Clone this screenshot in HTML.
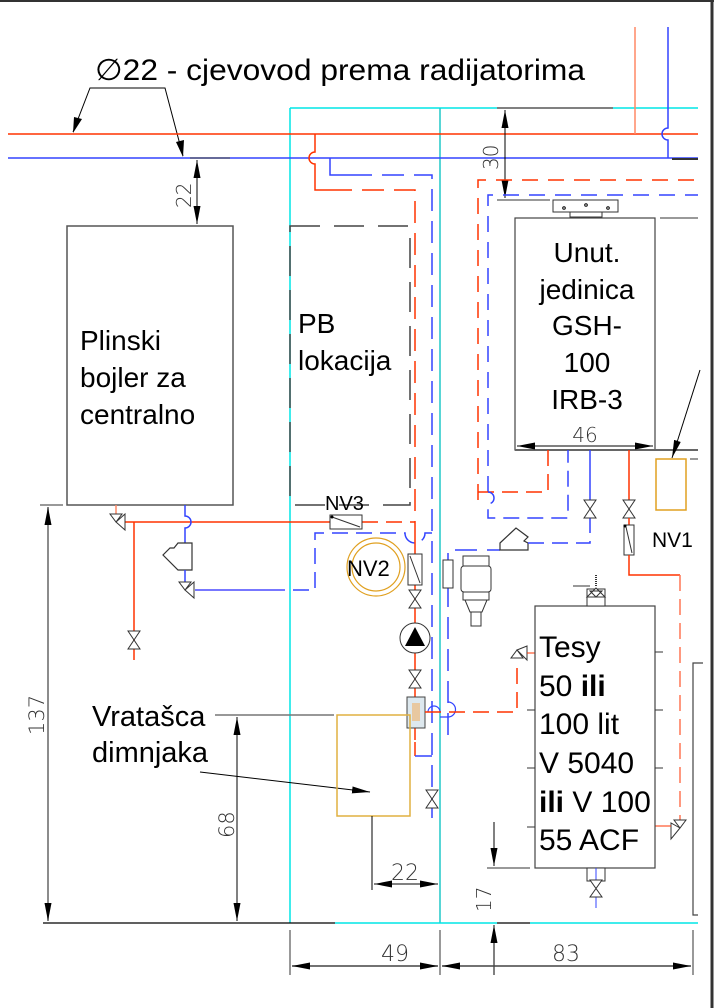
<!DOCTYPE html>
<html><head><meta charset="utf-8"><style>
html,body{margin:0;padding:0;background:#fff;}
svg{display:block;}
text{font-family:"Liberation Sans",sans-serif;}
.d{font-family:"DejaVu Sans","Liberation Sans",sans-serif;font-weight:200;fill:#333;}
</style></head><body>
<svg width="714" height="1008" viewBox="0 0 714 1008" xmlns="http://www.w3.org/2000/svg">
<defs>
<marker id="ahL" markerWidth="18" markerHeight="7" refX="18" refY="3.5" orient="auto" markerUnits="userSpaceOnUse"><path d="M0,0 L18,3.5 L0,7z" fill="#000"/></marker>
<marker id="ahS" markerWidth="18" markerHeight="7" refX="0" refY="3.5" orient="auto" markerUnits="userSpaceOnUse"><path d="M18,0 L0,3.5 L18,7z" fill="#000"/></marker>
</defs>
<line x1="0" y1="1" x2="714" y2="1" stroke="#333" stroke-width="2"/>
<line x1="712" y1="0" x2="712" y2="1008" stroke="#333" stroke-width="3"/>

<text x="95" y="80" font-size="30" fill="#000" textLength="490" lengthAdjust="spacingAndGlyphs">∅22 - cjevovod prema radijatorima</text>
<polyline points="73,132 90,88 165,88 183,156" fill="none" stroke="#000" stroke-width="1"/>
<path d="M73,133 L74,117 L82,119z" fill="#000"/>
<path d="M183,157 L176,142 L184,140z" fill="#000"/>

<line x1="290" y1="108" x2="497" y2="108" stroke="#00e5e5" stroke-width="1.5"/>
<line x1="497" y1="108" x2="613" y2="108" stroke="#000" stroke-width="1"/>
<line x1="613" y1="108" x2="698" y2="108" stroke="#00e5e5" stroke-width="1.5"/>
<line x1="290" y1="108" x2="290" y2="923" stroke="#00e5e5" stroke-width="1.5"/>
<line x1="440" y1="108" x2="440" y2="923" stroke="#20c8c8" stroke-width="1.5"/>
<line x1="43" y1="923" x2="335" y2="923" stroke="#000" stroke-width="1.2"/>
<line x1="335" y1="923" x2="497" y2="923" stroke="#00e5e5" stroke-width="1.5"/>
<line x1="497" y1="923" x2="530" y2="923" stroke="#000" stroke-width="1.2"/>
<line x1="530" y1="923" x2="698" y2="923" stroke="#00e5e5" stroke-width="1.5"/>

<line x1="8" y1="134" x2="698" y2="134" stroke="#ff3300" stroke-width="1.5"/>
<line x1="8" y1="158" x2="698" y2="158" stroke="#3344ff" stroke-width="1.5"/>
<line x1="635" y1="27" x2="635" y2="134" stroke="#ff8866" stroke-width="1.5"/>
<path d="M668,27 V128 A6,6 0 0 0 668,140 V158" fill="none" stroke="#3344ff" stroke-width="1.5"/>
<line x1="672" y1="159" x2="698" y2="159" stroke="#333" stroke-width="2"/>

<line x1="190" y1="158" x2="230" y2="158" stroke="#333"/>
<line x1="197" y1="160" x2="197" y2="224" stroke="#000" marker-start="url(#ahS)" marker-end="url(#ahL)"/>
<text class="d" x="0" y="0" font-size="20" transform="translate(191,208) rotate(-90)">22</text>

<rect x="67" y="226" width="166" height="279" fill="none" stroke="#555" stroke-width="1.5"/>
<text font-size="28" fill="#000"><tspan x="80" y="350">Plinski</tspan><tspan x="80" y="387">bojler za</tspan><tspan x="80" y="424">centralno</tspan></text>

<rect x="290" y="226" width="120" height="279" fill="none" stroke="#444" stroke-width="1.5" stroke-dasharray="30,14"/>
<text font-size="28" fill="#000"><tspan x="298" y="333">PB</tspan><tspan x="298" y="370">lokacija</tspan></text>

<path d="M315,134 V152 A6,6 0 0 0 315,164 V190 H330" fill="none" stroke="#ff3300" stroke-width="1.5"/>
<path d="M330,190 H415 V522" fill="none" stroke="#ff3300" stroke-width="1.5" stroke-dasharray="22,10"/>
<path d="M330,158 V175 H350" fill="none" stroke="#3344ff" stroke-width="1.5"/>
<path d="M350,175 H432 V818" fill="none" stroke="#3344ff" stroke-width="1.5" stroke-dasharray="22,10"/>

<line x1="122" y1="522" x2="330" y2="522" stroke="#ff3300" stroke-width="1.5"/>
<line x1="362" y1="522" x2="415" y2="522" stroke="#ff3300" stroke-width="1.5" stroke-dasharray="16,8"/>
<rect x="330" y="515" width="32" height="14" fill="#fff" stroke="#333"/>
<line x1="332" y1="517" x2="360" y2="527" stroke="#333"/>
<circle cx="332" cy="517" r="1.5" fill="#000"/>
<text x="325" y="510" font-size="20" fill="#000">NV3</text>

<line x1="116" y1="505" x2="116" y2="516" stroke="#ff8866" stroke-width="1.5"/>
<path d="M110,514 L122,514 L116,522z M116,522 L125,514 L125,530z" fill="#fff" stroke="#333"/>
<line x1="134" y1="522" x2="134" y2="660" stroke="#ff3300" stroke-width="1.5"/>
<path d="M128,631 L140,631 L128,649 L140,649z" fill="#fff" stroke="#333"/>
<path d="M185,505 V516 A6,6 0 0 1 185,528 V543" fill="none" stroke="#3344ff" stroke-width="1.5"/>
<path d="M178,543 H192 V570 H178 L163,555 L170,548 L174,548z" fill="#fff" stroke="#333" stroke-width="1.2"/>
<line x1="185" y1="570" x2="185" y2="582" stroke="#3344ff" stroke-width="1.5"/>
<path d="M179,582 L191,582 L185,590z M185,590 L194,582 L194,598z" fill="#fff" stroke="#333"/>
<line x1="195" y1="590" x2="285" y2="590" stroke="#7777ff" stroke-width="2"/>
<path d="M293,590 H315 V533 H405 A6,6 0 0 0 425,533 H432" fill="none" stroke="#3344ff" stroke-width="1.5" stroke-dasharray="16,8"/>

<circle cx="376" cy="567" r="29" fill="none" stroke="#e0a020" stroke-width="1.2"/>
<circle cx="376" cy="567" r="24" fill="none" stroke="#e0a020" stroke-width="1.2"/>
<text x="347" y="576" font-size="22" fill="#000">NV2</text>

<line x1="415" y1="522" x2="415" y2="740" stroke="#ff3300" stroke-width="1.5"/>
<rect x="408" y="554" width="14" height="31" fill="#fff" stroke="#333"/>
<line x1="410" y1="556" x2="420" y2="583" stroke="#333"/>
<path d="M409,590 L421,590 L409,608 L421,608z" fill="#fff" stroke="#333"/>
<circle cx="415" cy="638" r="15" fill="#fff" stroke="#333"/>
<path d="M405,646 L425,646 L415,627z" fill="#000"/>
<path d="M409,670 L421,670 L409,688 L421,688z" fill="#fff" stroke="#333"/>
<rect x="407" y="697" width="18" height="31" fill="#dde8ee" stroke="#444"/>
<rect x="412" y="703" width="8" height="18" fill="#e8c8a0"/>
<path d="M415,742 V756" fill="none" stroke="#ff3300" stroke-width="1.5"/>
<line x1="415" y1="756" x2="432" y2="756" stroke="#3344ff" stroke-width="1.5"/>
<path d="M426,790 L438,790 L426,808 L438,808z" fill="#fff" stroke="#333"/>

<path d="M448,735 V550 H500" fill="none" stroke="#3344ff" stroke-width="1.5" stroke-dasharray="22,10"/>
<path d="M428,712 A6,6 0 0 1 440,712" fill="none" stroke="#3344ff" stroke-width="1.2"/>
<path d="M440,717 H448 A6,6 0 0 0 448,702" fill="none" stroke="#3344ff" stroke-width="1.2"/>
<rect x="443" y="560" width="10" height="28" fill="#fff" stroke="#333"/>
<rect x="463" y="556" width="26" height="10" fill="#fff" stroke="#333"/>
<rect x="461" y="566" width="30" height="26" rx="3" fill="#fff" stroke="#333"/>
<rect x="463" y="592" width="26" height="8" fill="#fff" stroke="#333"/>
<path d="M465,600 L487,600 L482,612 L470,612z" fill="#fff" stroke="#333"/>
<rect x="471" y="612" width="10" height="14" fill="#fff" stroke="#333"/>
<path d="M500,543 L516,528 L528,537 L524,541 L528,543 V550 H500z" fill="#fff" stroke="#333" stroke-width="1.2"/>
<path d="M528,543 H590 V518" fill="none" stroke="#3344ff" stroke-width="1.5" stroke-dasharray="16,8"/>

<path d="M425,712 H517 V660" fill="none" stroke="#ff3300" stroke-width="1.5" stroke-dasharray="16,8"/>
<path d="M511,658 L523,658 L517,650z M517,650 L527,646 L527,660z" fill="#fff" stroke="#333"/>
<line x1="527" y1="653" x2="535" y2="653" stroke="#ff3300"/>

<line x1="505" y1="110" x2="505" y2="198" stroke="#000" marker-start="url(#ahS)" marker-end="url(#ahL)"/>
<text class="d" x="0" y="0" font-size="20" transform="translate(498,170) rotate(-90)">30</text>
<line x1="497" y1="200" x2="550" y2="200" stroke="#333"/>
<path d="M478,500 V180 H698" fill="none" stroke="#ff3300" stroke-width="1.5" stroke-dasharray="16,10"/>
<path d="M488,492 V195 H698" fill="none" stroke="#3344ff" stroke-width="1.5" stroke-dasharray="16,10"/>
<rect x="553" y="200" width="65" height="12" fill="#fff" stroke="#333"/>
<rect x="570" y="212" width="32" height="5" fill="#fff" stroke="#333"/>
<circle cx="564" cy="208" r="1.3" fill="none" stroke="#000"/><circle cx="586" cy="205" r="1.3" fill="none" stroke="#000"/><circle cx="608" cy="208" r="1.3" fill="none" stroke="#000"/>
<rect x="515" y="218" width="140" height="232" fill="none" stroke="#444" stroke-width="1.2"/>
<line x1="660" y1="218" x2="698" y2="218" stroke="#333"/>
<line x1="515" y1="450" x2="698" y2="450" stroke="#666" stroke-width="2"/>
<text font-size="28" fill="#000" text-anchor="middle"><tspan x="587" y="262">Unut.</tspan><tspan x="587" y="299">jedinica</tspan><tspan x="587" y="335">GSH-</tspan><tspan x="587" y="372">100</tspan><tspan x="587" y="409">IRB-3</tspan></text>
<line x1="517" y1="446" x2="653" y2="446" stroke="#000" marker-start="url(#ahS)" marker-end="url(#ahL)"/>
<text class="d" x="585" y="442" font-size="20" text-anchor="middle">46</text>
<path d="M548,450 V492 H478" fill="none" stroke="#ff3300" stroke-width="1.5" stroke-dasharray="16,8"/>
<path d="M488,492 A6,6 0 0 1 488,504 V518 H568 V450" fill="none" stroke="#3344ff" stroke-width="1.5" stroke-dasharray="16,8"/>
<line x1="590" y1="450" x2="590" y2="500" stroke="#3344ff" stroke-width="1.5"/>
<path d="M584,500 L596,500 L584,518 L596,518z" fill="#fff" stroke="#333"/>
<line x1="629" y1="450" x2="629" y2="500" stroke="#ff3300" stroke-width="1.5"/>
<path d="M623,500 L635,500 L623,518 L635,518z" fill="#fff" stroke="#333"/>
<line x1="629" y1="518" x2="629" y2="525" stroke="#ff3300" stroke-width="1.5"/>
<rect x="624" y="525" width="10" height="30" fill="#fff" stroke="#333"/>
<line x1="626" y1="527" x2="632" y2="553" stroke="#333"/>
<circle cx="625" cy="526" r="1.5" fill="#000"/>
<text x="652" y="547" font-size="21" fill="#000">NV1</text>
<path d="M629,555 V575 H680" fill="none" stroke="#ff3300" stroke-width="1.5"/>
<path d="M680,575 V820" fill="none" stroke="#ff7755" stroke-width="1.5" stroke-dasharray="16,8"/>
<path d="M674,820 L686,820 L680,828z M680,828 L671,823 L671,839z" fill="#fff" stroke="#333"/>
<line x1="655" y1="826" x2="671" y2="826" stroke="#ff3300"/>
<rect x="656" y="459" width="30" height="51" fill="none" stroke="#e0a020" stroke-width="1.5"/>
<line x1="700" y1="370" x2="672" y2="458" stroke="#000" marker-end="url(#ahL)"/>
<line x1="690" y1="459" x2="698" y2="459" stroke="#333"/>

<rect x="535" y="606" width="120" height="262" fill="none" stroke="#444" stroke-width="1.2"/>
<text font-size="30" fill="#000"><tspan x="539" y="657">Tesy</tspan><tspan x="539" y="696">50 <tspan font-weight="bold">ili</tspan></tspan><tspan x="539" y="734">100 lit</tspan><tspan x="539" y="773">V 5040</tspan><tspan x="539" y="812"><tspan font-weight="bold">ili</tspan> V 100</tspan><tspan x="539" y="850">55 ACF</tspan></text>
<g stroke="#333"><line x1="527" y1="710" x2="535" y2="710"/><line x1="527" y1="768" x2="535" y2="768"/><line x1="527" y1="827" x2="535" y2="827"/><line x1="655" y1="652" x2="663" y2="652"/><line x1="655" y1="710" x2="663" y2="710"/><line x1="655" y1="768" x2="663" y2="768"/></g>
<rect x="587" y="589" width="18" height="17" fill="#fff" stroke="#333"/>
<path d="M587,597 L605,597 L596,588z M590,591 L602,591 L596,597z" fill="#fff" stroke="#333"/>
<line x1="596" y1="575" x2="596" y2="587" stroke="#333" stroke-width="2" stroke-dasharray="1,1"/>
<line x1="573" y1="586" x2="590" y2="586" stroke="#333"/>
<rect x="587" y="868" width="18" height="13" fill="#fff" stroke="#333"/>
<line x1="596" y1="868" x2="596" y2="908" stroke="#3344ff"/>
<path d="M590,880 L602,880 L590,897 L602,897z" fill="#fff" stroke="#333"/>
<polyline points="703,663 693,663 693,915 698,915" fill="none" stroke="#444" stroke-width="1.2"/>

<line x1="487" y1="868" x2="530" y2="868" stroke="#333"/>
<line x1="494" y1="822" x2="494" y2="866" stroke="#000" marker-end="url(#ahL)"/>
<line x1="494" y1="975" x2="494" y2="925" stroke="#000" marker-end="url(#ahL)"/>
<text class="d" x="0" y="0" font-size="20" transform="translate(491,912) rotate(-90)">17</text>

<g stroke="#333"><line x1="290" y1="930" x2="290" y2="975"/><line x1="440" y1="930" x2="440" y2="975"/><line x1="693" y1="930" x2="693" y2="975"/></g>
<line x1="292" y1="966" x2="438" y2="966" stroke="#444" stroke-width="1.5" marker-start="url(#ahS)" marker-end="url(#ahL)"/>
<line x1="442" y1="966" x2="691" y2="966" stroke="#444" stroke-width="1.5" marker-start="url(#ahS)" marker-end="url(#ahL)"/>
<text class="d" x="381" y="961" font-size="22">49</text>
<text class="d" x="552" y="961" font-size="22">83</text>

<line x1="40" y1="505" x2="63" y2="505" stroke="#333"/>
<line x1="48" y1="507" x2="48" y2="921" stroke="#666" stroke-width="1.5" marker-start="url(#ahS)" marker-end="url(#ahL)"/>
<text class="d" x="0" y="0" font-size="21" transform="translate(44,735) rotate(-90)">137</text>

<text font-size="29" fill="#000"><tspan x="92" y="726">Vratašca</tspan><tspan x="92" y="762">dimnjaka</tspan></text>
<line x1="215" y1="715" x2="334" y2="715" stroke="#777" stroke-width="1.5"/>
<line x1="237" y1="717" x2="237" y2="921" stroke="#000" marker-start="url(#ahS)" marker-end="url(#ahL)"/>
<text class="d" x="0" y="0" font-size="21" transform="translate(234,838) rotate(-90)">68</text>
<line x1="200" y1="772" x2="370" y2="792" stroke="#000" marker-end="url(#ahL)"/>
<rect x="337" y="715" width="73" height="101" fill="none" stroke="#e0b040" stroke-width="1.5"/>
<line x1="372" y1="816" x2="372" y2="890" stroke="#000"/>
<line x1="374" y1="884" x2="438" y2="884" stroke="#000" marker-start="url(#ahS)" marker-end="url(#ahL)"/>
<text class="d" x="391" y="880" font-size="22">22</text>
</svg>
</body></html>
